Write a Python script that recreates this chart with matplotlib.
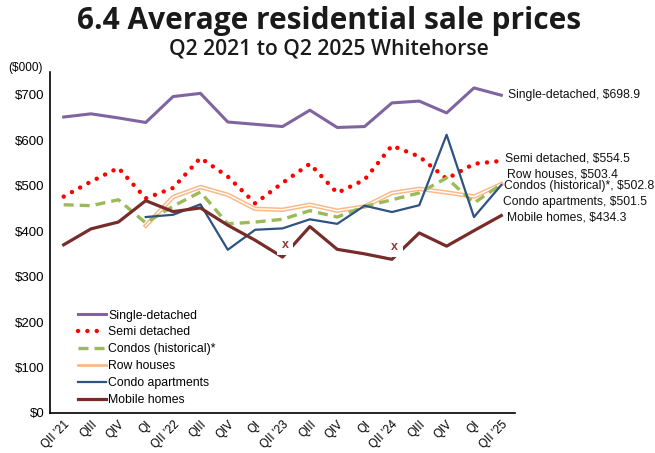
import numpy as np
import matplotlib
matplotlib.use("Agg")
from matplotlib import pyplot as plt
from matplotlib import patheffects as pe
from matplotlib.lines import Line2D

plt.rcParams['font.family'] = ['Liberation Sans', 'DejaVu Sans']

quarters = ["QII '21", "QIII", "QIV", "QI", "QII '22", "QIII", "QIV", "QI", "QII '23",
            "QIII", "QIV", "QI", "QII '24", "QIII", "QIV", "QI", "QII '25"]

single_detached = [651, 658, 649, 639, 696, 703, 640, 635, 630, 666, 628, 630, 682, 686, 660, 715, 698.9]
semi_detached = [476, 509, 539, 472, 495, 561, 520, 461, 506, 548, 484, 513, 588, 564, 515, 548, 554.5]
condos_hist = [458, 456, 469, 418, 455, 486, 416, 420, 426, 445, 431, 454, 469, 484, 517, 462, 502.8]
row_houses = [np.nan, np.nan, np.nan, 412, 475, 497, 480, 449, 447, 458, 445, 454, 484, 493, 485, 476, 503.4]
condo_apts = [np.nan, np.nan, np.nan, 431, 436, 459, 359, 403, 406, 426, 416, 456, 442, 457, 612, 431, 501.5]
mobile_homes = [370, 405, 420, 467, 443, 451, 413, 380, 343, 410, 360, 350, 338, 396, 367, 401, 434.3]

# quarters where mobile homes value is suppressed ("x" label)
mobile_x_idx = [8, 12]

names = ["Single-detached", "Semi detached", "Condos (historical)*", "Row houses",
         "Condo apartments", "Mobile homes"]

c_single = '#8064A2'
c_semi = '#FF0000'
c_condo_h = '#9BBB59'
c_row = '#FAB98A'
c_apt = '#2C5382'
c_mobile = '#772C2A'

fig = plt.figure(figsize=(6.55, 4.53), dpi=100)
ax = fig.add_axes([50 / 655, 1 - 413 / 453, 465 / 655, 341 / 453])

x = np.arange(len(quarters))

l1, = ax.plot(x, single_detached, color=c_single, lw=2.2, zorder=3)
l2, = ax.plot(x, semi_detached, color=c_semi, lw=3.2, linestyle=(0, (0.01, 2.1)),
              dash_capstyle='round', zorder=3)
l3, = ax.plot(x, condos_hist, color=c_condo_h, lw=2.4, linestyle=(0, (3, 1.8)), zorder=3)
ax.plot(x, row_houses, color=c_row, lw=1.2, zorder=2,
        path_effects=[pe.Stroke(linewidth=3.2, foreground=c_row), pe.Stroke(linewidth=1.0, foreground='white')])
l4 = Line2D([], [], color=c_row, lw=2.0)
l5, = ax.plot(x, condo_apts, color=c_apt, lw=1.6, zorder=3)
l6, = ax.plot(x, mobile_homes, color=c_mobile, lw=2.3, zorder=3)

for i in mobile_x_idx:
    ax.annotate('x', (x[i], mobile_homes[i]), xytext=(2, 9), textcoords='offset points',
                ha='center', va='center', fontsize=9, fontweight='bold', color='#8B3A3A',
                bbox=dict(boxstyle='square,pad=0.35', fc='white', ec='none'), zorder=5)

# right hand series labels
end_labels = [
    (16.26, 700, "Single-detached, $698.9"),
    (16.15, 559, "Semi detached, $554.5"),
    (16.22, 525, "Row houses, $503.4"),
    (16.08, 500, "Condos (historical)*, $502.8"),
    (16.07, 465, "Condo apartments, $501.5"),
    (16.22, 430, "Mobile homes, $434.3"),
]
for lx, ly, txt in end_labels:
    ax.text(lx, ly, txt, ha='left', va='center', fontsize=8.7, color='#111111', clip_on=False)

ax.set_xlim(-0.5, 16.5)
ax.set_ylim(0, 750)
ax.set_yticks(np.arange(0, 701, 100))
ax.set_yticklabels([f'${v}' for v in range(0, 701, 100)], fontsize=9.5)
ax.set_xticks(x)
ax.set_xticklabels(quarters, rotation=45, ha='right', rotation_mode='anchor', fontsize=8.5)
ax.tick_params(axis='both', length=0, pad=4)
ax.spines['top'].set_visible(False)
ax.spines['right'].set_visible(False)
ax.spines['left'].set_linewidth(1.2)
ax.spines['bottom'].set_linewidth(1.2)

fig.text(8 / 655, 1 - 68 / 453, '($000)', fontsize=8.5, va='center', ha='left')

leg = ax.legend([l1, l2, l3, l4, l5, l6], names, loc='lower left',
                bbox_to_anchor=(78 / 655, 1 - 406 / 453), bbox_transform=fig.transFigure,
                frameon=False, fontsize=8.8, handlelength=2.3, handletextpad=0.15,
                labelspacing=0.4, borderpad=0, borderaxespad=0)

fig.text(329 / 655, 1 - 21 / 453, '6.4 Average residential sale prices', ha='center', va='center',
         fontsize=21.5, fontweight='bold', family=['Open Sans', 'DejaVu Sans'], color='#1a1a1a')
fig.text(329 / 655, 1 - 49 / 453, 'Q2 2021 to Q2 2025 Whitehorse', ha='center', va='center',
         fontsize=15.2, fontweight='semibold', family=['Open Sans', 'DejaVu Sans'], color='#1a1a1a')

plt.savefig('out.png', dpi=100)
